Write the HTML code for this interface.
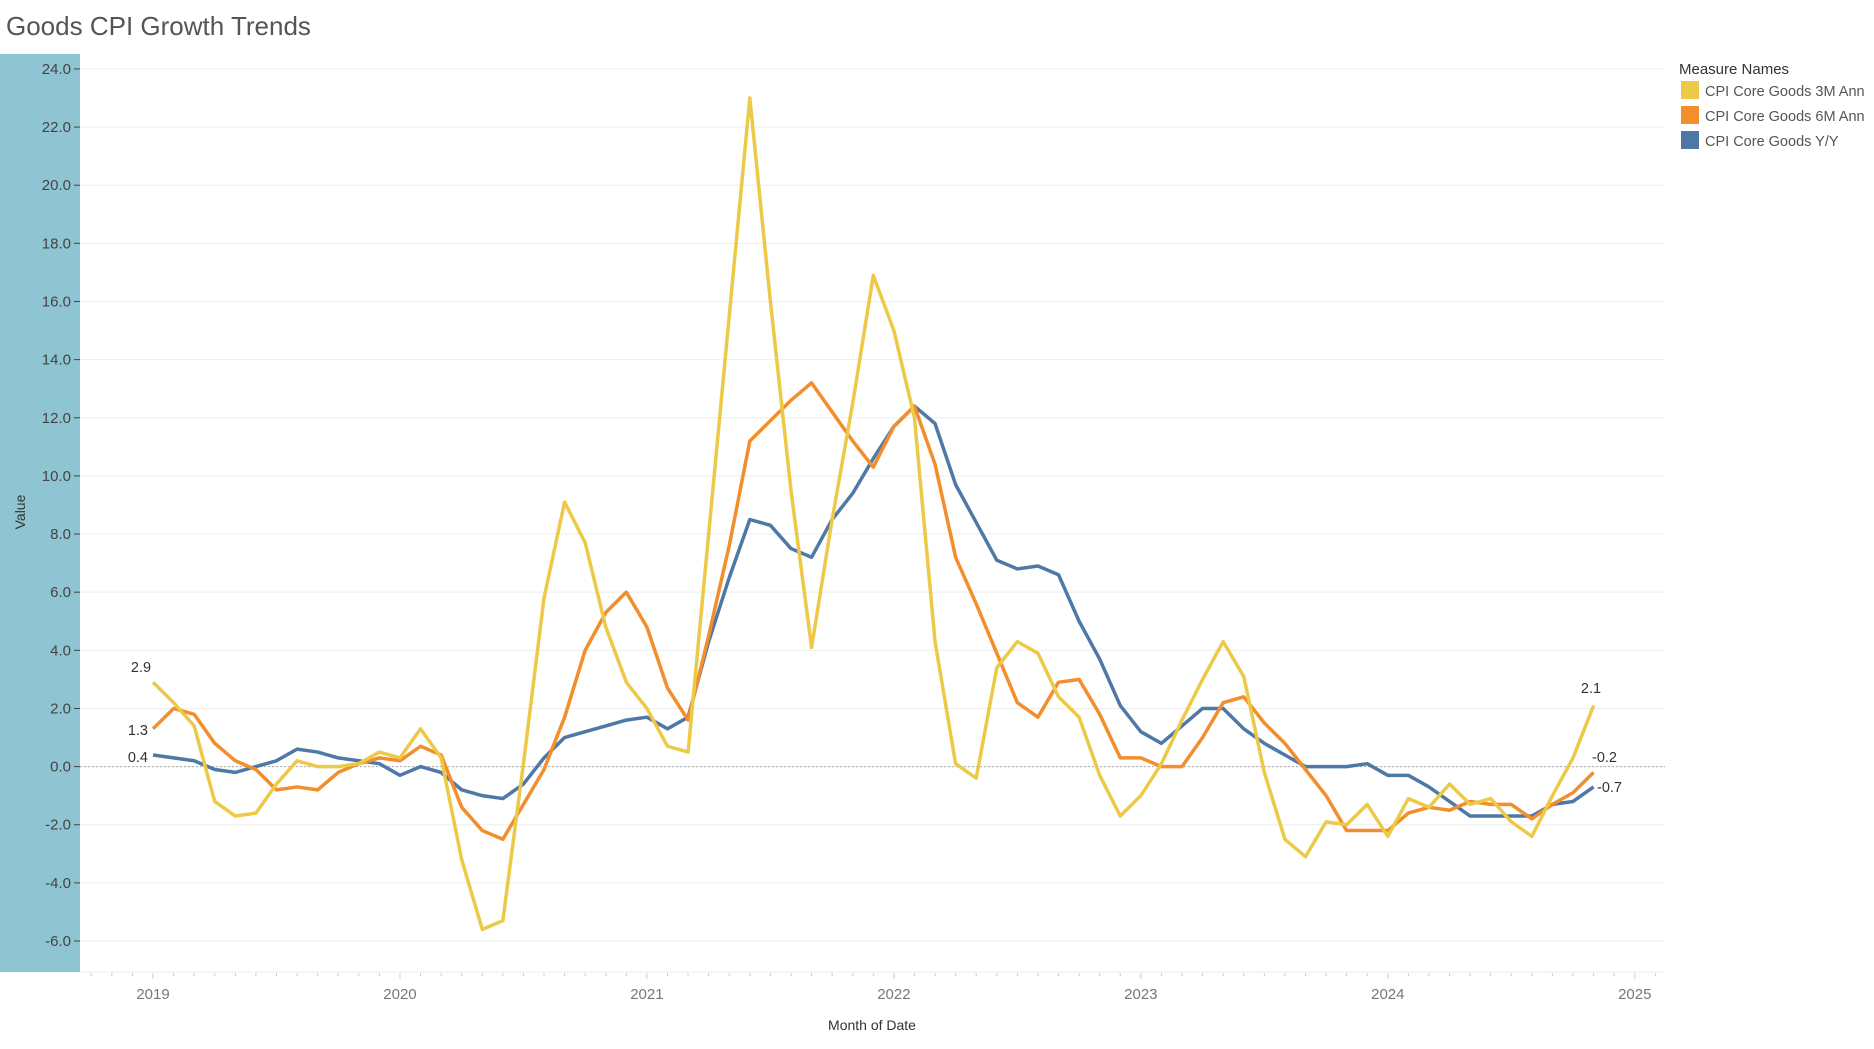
<!DOCTYPE html>
<html><head><meta charset="utf-8"><style>
body{margin:0;background:#fff;width:1874px;height:1044px;overflow:hidden;font-family:"Liberation Sans",sans-serif}
</style></head><body>
<svg id="s" width="1874" height="1044" xmlns="http://www.w3.org/2000/svg" font-family="Liberation Sans, sans-serif">
<text x="6" y="35" font-size="26" fill="#555">Goods CPI Growth Trends</text>
<rect x="0" y="54" width="80" height="918" fill="#8fc4d3"/>
<g id="g"></g>
<text transform="translate(25,512) rotate(-90)" font-size="14" fill="#333" text-anchor="middle">Value</text>
<text x="872" y="1030" font-size="14" fill="#333" text-anchor="middle">Month of Date</text>
<text x="1679" y="74" font-size="15" fill="#333">Measure Names</text>
<rect x="1681" y="81" width="18" height="18" fill="#edc948"/>
<rect x="1681" y="106" width="18" height="18" fill="#f28e2b"/>
<rect x="1681" y="131" width="18" height="18" fill="#4e79a7"/>
<text x="1705" y="96" font-size="14.5" fill="#555">CPI Core Goods 3M Ann</text>
<text x="1705" y="121" font-size="14.5" fill="#555">CPI Core Goods 6M Ann</text>
<text x="1705" y="146" font-size="14.5" fill="#555">CPI Core Goods Y/Y</text>
</svg>
<script>
const X=i=>153+i*20.58, Y=v=>766.6-v*29.07;
const y3=[2.9,2.2,1.4,-1.2,-1.7,-1.6,-0.6,0.2,0.0,0.0,0.1,0.5,0.3,1.3,0.3,-3.2,-5.6,-5.3,0.1,5.8,9.1,7.7,4.8,2.9,2.0,0.7,0.5,8.0,15.5,23.0,16.0,9.5,4.1,8.5,12.5,16.9,15.0,12.0,4.3,0.1,-0.4,3.4,4.3,3.9,2.4,1.7,-0.3,-1.7,-1.0,0.1,1.6,3.0,4.3,3.1,-0.2,-2.5,-3.1,-1.9,-2.0,-1.3,-2.4,-1.1,-1.4,-0.6,-1.3,-1.1,-1.9,-2.4,-1.0,0.3,2.1];
const y6=[1.3,2.0,1.8,0.8,0.2,-0.1,-0.8,-0.7,-0.8,-0.2,0.1,0.3,0.2,0.7,0.4,-1.4,-2.2,-2.5,-1.3,-0.1,1.7,4.0,5.3,6.0,4.8,2.7,1.6,4.5,7.6,11.2,11.9,12.6,13.2,12.2,11.2,10.3,11.7,12.4,10.4,7.2,5.6,3.9,2.2,1.7,2.9,3.0,1.8,0.3,0.3,0.0,0.0,1.0,2.2,2.4,1.5,0.8,-0.1,-1.0,-2.2,-2.2,-2.2,-1.6,-1.4,-1.5,-1.2,-1.3,-1.3,-1.8,-1.3,-0.9,-0.2];
const yy=[0.4,0.3,0.2,-0.1,-0.2,0.0,0.2,0.6,0.5,0.3,0.2,0.1,-0.3,0.0,-0.2,-0.8,-1.0,-1.1,-0.6,0.3,1.0,1.2,1.4,1.6,1.7,1.3,1.7,4.3,6.5,8.5,8.3,7.5,7.2,8.5,9.4,10.6,11.7,12.4,11.8,9.7,8.4,7.1,6.8,6.9,6.6,5.0,3.7,2.1,1.2,0.8,1.4,2.0,2.0,1.3,0.8,0.4,0.0,0.0,0.0,0.1,-0.3,-0.3,-0.7,-1.2,-1.7,-1.7,-1.7,-1.7,-1.3,-1.2,-0.7];
let h='';
for(let v=-6;v<=24;v+=2){const y=Y(v);h+=`<line x1="80" x2="1665" y1="${y}" y2="${y}" stroke="#eee"/><line x1="74" x2="80" y1="${y}" y2="${y}" stroke="#444"/><text x="71" y="${y+5}" font-size="15" fill="#444" text-anchor="end">${v.toFixed(1)}</text>`;}
h+=`<line x1="80" x2="1665" y1="972" y2="972" stroke="#eee"/>`;
h+=`<line x1="80" x2="1665" y1="${Y(0)}" y2="${Y(0)}" stroke="#aaa" stroke-dasharray="2,2"/>`;
for(let m=-3;m<=75;m++){const x=X(m);if(x<82||x>1662)continue;const yr=m%12==0;h+=`<line x1="${x}" x2="${x}" y1="973" y2="${yr?979:976}" stroke="#ccc"/>`;if(yr)h+=`<text x="${x}" y="999" font-size="15" fill="#777" text-anchor="middle">${2019+m/12}</text>`;}
const pl=(d,c)=>`<polyline fill="none" stroke="${c}" stroke-width="3.5" stroke-linejoin="round" points="${d.map((v,i)=>X(i)+','+Y(v)).join(' ')}"/>`;
h+=pl(yy,'#4e79a7')+pl(y6,'#f28e2b')+pl(y3,'#edc948');
const t=(x,y,s,a)=>`<text x="${x}" y="${y}" font-size="14.5" fill="#333" text-anchor="${a}">${s}</text>`;
h+=t(141,672,'2.9','middle')+t(148,735,'1.3','end')+t(148,762,'0.4','end')+t(1591,693,'2.1','middle')+t(1592,762,'-0.2','start')+t(1597,792,'-0.7','start');
document.getElementById('g').innerHTML=h;
</script>
</body></html>
